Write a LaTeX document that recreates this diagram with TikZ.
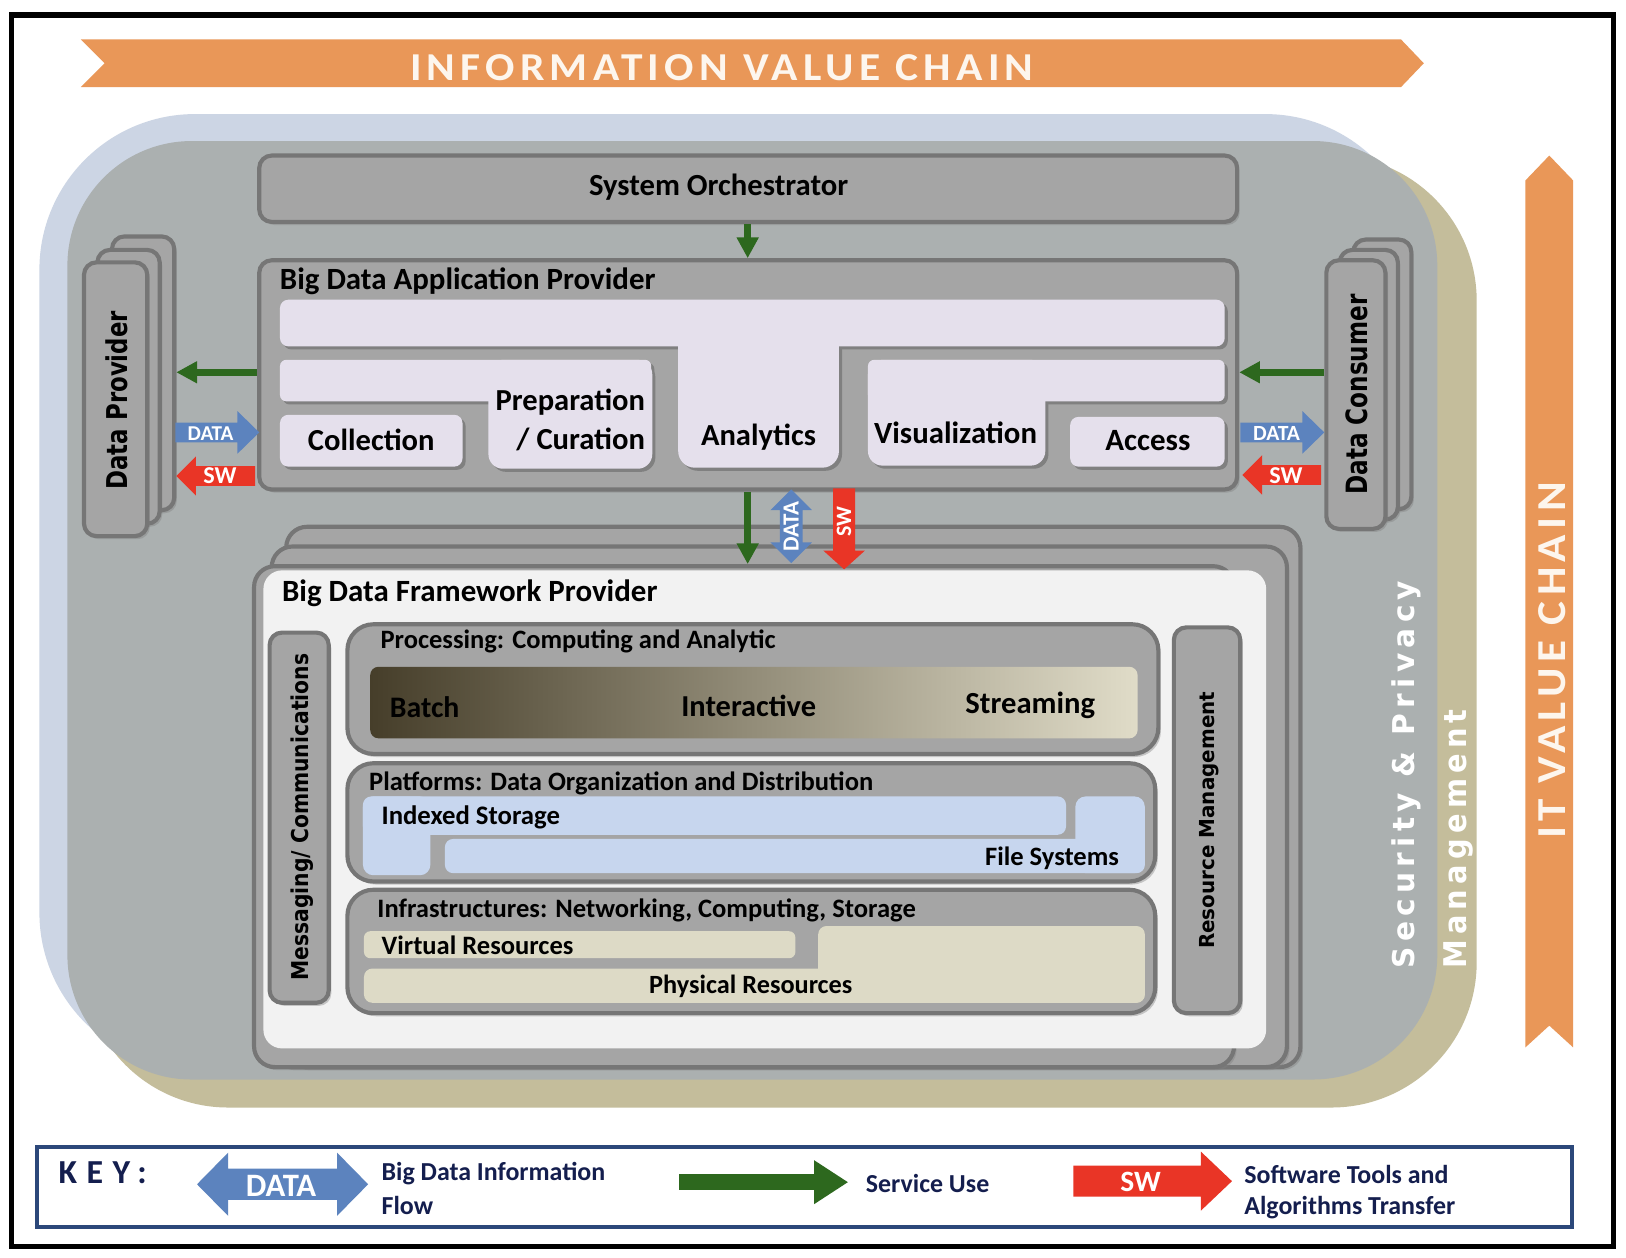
\documentclass[tikz,border=0pt]{standalone}
\usepackage{fontspec}
\usepackage{graphicx}
\setmainfont{Carlito}
\newfontfamily\dv{DejaVu Sans}
\newfontfamily\spc[LetterSpace=12]{Carlito}
\newfontfamily\dvspc[LetterSpace=18]{DejaVu Sans}
\newfontfamily\keyf[LetterSpace=28]{Carlito}
\usetikzlibrary{arrows.meta,shadows}
\newcommand\fw[2]{\resizebox{#1pt}{!}{#2}}
\newcommand\fwh[3]{\resizebox{#1pt}{#2pt}{#3}}
\definecolor{orng}{RGB}{233,151,88}
\definecolor{chaintxt}{RGB}{253,246,238}
\definecolor{blueglow}{RGB}{204,213,228}
\definecolor{tanc}{RGB}{196,189,155}
\definecolor{grayreg}{RGB}{171,176,176}
\definecolor{gfill}{RGB}{165,165,165}
\definecolor{gbord}{RGB}{118,118,118}
\definecolor{lavc}{RGB}{229,224,236}
\definecolor{lavshc}{RGB}{128,128,128}
\definecolor{panelc}{RGB}{242,242,242}
\definecolor{idxblue}{RGB}{199,214,238}
\definecolor{beige}{RGB}{221,218,198}
\definecolor{gdark}{RGB}{70,62,42}
\definecolor{gmid}{RGB}{142,132,96}
\definecolor{glight}{RGB}{224,220,200}
\definecolor{svcg}{RGB}{45,104,30}
\definecolor{datab}{RGB}{92,131,190}
\definecolor{swr}{RGB}{233,53,38}
\definecolor{keyb}{RGB}{44,72,122}
\definecolor{navy}{RGB}{20,30,78}
% block arrows: tail, tip, centre, body half, head half, signed head length, style
\newcommand\myharrow[7]{\fill[#7] (#1,{#3-#4}) -- ({#2-(#6)},{#3-#4}) -- ({#2-(#6)},{#3-#5}) -- (#2,#3) -- ({#2-(#6)},{#3+#5}) -- ({#2-(#6)},{#3+#4}) -- (#1,{#3+#4}) -- cycle;}
\newcommand\myvarrow[7]{\fill[#7] ({#1-#4},#2) -- ({#1-#4},{#3-(#6)}) -- ({#1-#5},{#3-(#6)}) -- (#1,#3) -- ({#1+#5},{#3-(#6)}) -- ({#1+#4},{#3-(#6)}) -- ({#1+#4},#2) -- cycle;}
\newcommand\mydharrow[7]{\fill[#7] (#1,#3) -- ({#1+#6},{#3-#5}) -- ({#1+#6},{#3-#4}) -- ({#2-#6},{#3-#4}) -- ({#2-#6},{#3-#5}) -- (#2,#3) -- ({#2-#6},{#3+#5}) -- ({#2-#6},{#3+#4}) -- ({#1+#6},{#3+#4}) -- ({#1+#6},{#3+#5}) -- cycle;}
\newcommand\mydvarrow[7]{\fill[#7] (#1,#2) -- ({#1+#5},{#2+#6}) -- ({#1+#4},{#2+#6}) -- ({#1+#4},{#3-#6}) -- ({#1+#5},{#3-#6}) -- (#1,#3) -- ({#1-#5},{#3-#6}) -- ({#1-#4},{#3-#6}) -- ({#1-#4},{#2+#6}) -- ({#1-#5},{#2+#6}) -- cycle;}
\newcommand\lavshapes[1]{%
 \fill[#1, rounded corners=16pt] (654,300) rectangle (809,451);
 \fill[#1, rounded corners=8pt] (270,289) rectangle (1181,334);
 \fill[#1, rounded corners=6pt] (270,347) rectangle (628,387);
 \fill[#1, rounded corners=14pt] (471,347) rectangle (629,452);
 \fill[#1, rounded corners=8pt] (270,400) rectangle (446,450);
 \fill[#1, rounded corners=6pt] (837,347) rectangle (1181,387);
 \fill[#1, rounded corners=14pt] (837,347) rectangle (1008,449);
 \fill[#1, rounded corners=8pt] (1032,402) rectangle (1181,450);
}
\begin{document}
\begin{tikzpicture}[x=1pt,y=-1pt,
  lbl/.style={inner sep=0pt, outer sep=0pt, font=\bfseries},
  keytxt/.style={inner sep=0pt, outer sep=0pt, text=navy, font=\bfseries\fontsize{25}{30}\selectfont},
  gbox/.style={fill=gfill, draw=gbord, line width=4pt, rounded corners=12pt, inner sep=0pt,
     drop shadow={shadow xshift=2.5pt, shadow yshift=-3pt, opacity=0.4}},
  svc/.style={draw=svcg, line width=7pt, -{Triangle[width=20pt,length=20pt]}},
  dataar/.style={fill=datab},
  swar/.style={fill=swr},
  lav/.style={fill=lavc},
  lavshadow/.style={fill=lavshc, shift={(3,3)}},
]
\useasboundingbox (0,0) rectangle (1568,1213);
\fill[white] (0,0) rectangle (1568,1213);
\draw[line width=5pt] (11,14.5) rectangle (1556,1202);

% information value chain
\fill[orng] (78,38) -- (1351,38) -- (1373,61) -- (1351,84) -- (78,84) -- (101,61) -- cycle;
\node[lbl, text=chaintxt] (ivc) at (696,65.5) {\fwh{601}{25}{\spc INFORMATION VALUE CHAIN}};

% IT value chain
\fill[orng] (1471,174) -- (1494,150) -- (1517,174) -- (1517,1010) -- (1494,989) -- (1471,1010) -- cycle;
\node[lbl, text=chaintxt, rotate=90] (itvc) at (1497,637) {\fwh{344}{26}{\spc IT VALUE CHAIN}};

% regions
\fill[blueglow, rounded corners=150pt] (38,110) rectangle (1370,1030);
\fill[tanc, rounded corners=140pt] (80,150) rectangle (1424,1068);
\fill[grayreg, rounded corners=120pt] (65,136) rectangle (1386,1041);
\node[lbl, text=white, rotate=90] (secpriv) at (1356,747) {\fwh{374}{22}{\dvspc Security \& Privacy}};
\node[lbl, text=white, rotate=90] (mgmt) at (1406,809) {\fwh{250}{22}{\dvspc Management}};

% system orchestrator
\node[gbox, minimum width=943, minimum height=64] (orch) at (721.5,182) {};
\node[lbl, anchor=base] (orchtxt) at (693,189) {\fw{250}{System Orchestrator}};

% application provider
\node[gbox, minimum width=943, minimum height=221] (app) at (721.5,361.5) {};
\lavshapes{lavshadow}
\lavshapes{lav}
\node[lbl, anchor=base west] (apptitle) at (270,279) {\fw{362}{Big Data Application Provider}};
\node[lbl, anchor=base] (colltxt) at (358,434) {\fw{122}{Collection}};
\node[lbl, anchor=base east] (preptxt) at (622,396) {\fw{144}{Preparation}};
\node[lbl, anchor=base east] (curtxt) at (622,433) {\fw{124}{/ Curation}};
\node[lbl, anchor=base west] (anatxt) at (676,430) {\fw{111}{Analytics}};
\node[lbl, anchor=base west] (vistxt) at (843,428) {\fw{157}{Visualization}};
\node[lbl, anchor=base west] (acctxt) at (1066,434) {\fw{82}{Access}};

% data provider stack
\node[gbox, minimum width=60, minimum height=264] (dp3) at (138,360) {};
\node[gbox, minimum width=60, minimum height=264] (dp2) at (124,373) {};
\node[gbox, minimum width=61, minimum height=264] (dp) at (111.5,385) {};
\node[lbl, rotate=90] (dptxt) at (112.5,386) {\fwh{172}{21}{\dv Data Provider}};

% data consumer stack
\node[gbox, minimum width=56, minimum height=260] (dc3) at (1333,361) {};
\node[gbox, minimum width=56, minimum height=260] (dc2) at (1320,371) {};
\node[gbox, minimum width=57, minimum height=259] (dc) at (1307.5,380.5) {};
\node[lbl, rotate=90] (dctxt) at (1308,380.5) {\fwh{193}{21}{\dv Data Consumer}};

% framework provider stack
\node[gbox, rounded corners=20pt, minimum width=978, minimum height=521] (fw1) at (765,768.5) {};
\node[gbox, rounded corners=20pt, minimum width=979, minimum height=502] (fw2) at (751.5,778) {};
\node[gbox, rounded corners=20pt, minimum width=945, minimum height=483] (fw3) at (717.5,787.5) {};
\node[fill=panelc, rounded corners=18pt, inner sep=0pt, minimum width=967, minimum height=461] (panel) at (737.5,780.5) {};
\node[lbl, anchor=base west] (fwtitle) at (272,580) {\fw{362}{Big Data Framework Provider}};

% connectors
\coordinate (cx) at (721,0);
\coordinate (yl) at (0,359);
\draw[svc] (orch.south -| cx) -- (app.north -| cx);
\draw[svc] (app.west |- yl) -- (dp3.east |- yl);
\draw[svc] (dc.west |- yl) -- (app.east |- yl);
\draw[svc] (app.south -| cx) -- (fw3.north -| cx);

% block arrows
\myharrow{169}{250}{417}{9.5}{20.5}{21}{dataar}
\node[lbl, text=white] (dl) at (203,418) {\fw{44}{DATA}};
\myharrow{246}{170}{459}{9.5}{19}{-19}{swar}
\node[lbl, text=white] (sl) at (212,459) {\fw{32}{SW}};
\myharrow{1196}{1277}{417}{9.5}{20.5}{21}{dataar}
\node[lbl, text=white] (dr) at (1231,418) {\fw{45}{DATA}};
\myharrow{1274}{1198}{458}{9.5}{19}{-19}{swar}
\node[lbl, text=white] (sr) at (1240,459) {\fw{32}{SW}};
\mydvarrow{763}{472}{543}{11}{20}{20}{dataar}
\node[lbl, text=white, rotate=90] (dv) at (763,508) {\fw{48}{DATA}};
\myvarrow{814}{471}{549}{10.5}{20}{18}{swar}
\node[lbl, text=white, rotate=90] (sv) at (814,503) {\fw{29}{SW}};

% messaging and resource management
\node[gbox, minimum width=57, minimum height=357] (msg) at (288.5,788.5) {};
\node[lbl, rotate=90] (msgtxt) at (291.5,788) {\fwh{315}{17}{\dv Messaging/ Communications}};
\node[gbox, minimum width=64, minimum height=372] (res) at (1164,791) {};
\node[lbl, rotate=90] (restxt) at (1166,791) {\fwh{248}{14.5}{\dv Resource Management}};

% processing
\node[gbox, rounded corners=25pt, minimum width=782, minimum height=125] (proc) at (726,664.5) {};
\shade[left color=gdark, middle color=gmid, right color=glight, rounded corners=8pt] (357,643) rectangle (1097,712);
\node[lbl, anchor=base west] (proctxt) at (367,625) {\fw{381}{Processing: Computing and Analytic}};
\node[lbl, anchor=base west] (batch) at (376,692) {\fw{67}{Batch}};
\node[lbl, anchor=base west] (inter) at (657,691) {\fw{130}{Interactive}};
\node[lbl, anchor=base west] (stream) at (931,688) {\fw{125}{Streaming}};

% platforms
\node[gbox, rounded corners=25pt, minimum width=779, minimum height=114] (plat) at (724.5,793) {};
\fill[idxblue, rounded corners=8pt] (350,768) rectangle (1028,805);
\fill[idxblue, rounded corners=10pt] (350,768) rectangle (415,844);
\fill[idxblue, rounded corners=8pt] (429,809) rectangle (1104,842);
\fill[idxblue, rounded corners=10pt] (1037,768) rectangle (1104,842);
\node[lbl, anchor=base west] (plattxt) at (356,762) {\fw{486}{Platforms: Data Organization and Distribution}};
\node[lbl, anchor=base west] (idx) at (368,795) {\fw{172}{Indexed Storage}};
\node[lbl, anchor=base east] (fs) at (1079,835) {\fw{129}{File Systems}};

% infrastructures
\node[gbox, rounded corners=25pt, minimum width=779, minimum height=119] (infra) at (724.5,917.5) {};
\fill[beige, rounded corners=6pt] (351,898) rectangle (767,924);
\fill[beige, rounded corners=8pt] (351,934) rectangle (1104,967);
\fill[beige, rounded corners=8pt] (789,893) rectangle (1104,967);
\node[lbl, anchor=base west] (inftxt) at (364,885) {\fw{519}{Infrastructures: Networking, Computing, Storage}};
\node[lbl, anchor=base west] (virt) at (368,920) {\fw{185}{Virtual Resources}};
\node[lbl, anchor=base west] (phys) at (626,958) {\fw{196}{Physical Resources}};

% key
\node[draw=keyb, line width=4pt, fill=white, inner sep=0pt, minimum width=1480, minimum height=77] (key) at (776,1144.5) {};
\node[lbl, text=navy] (keylbl) at (99,1130.5) {\fwh{85}{21}{\keyf KEY:}};
\mydharrow{190}{355}{1142}{15}{30.5}{30}{dataar}
\node[lbl, text=white] (kdata) at (271,1144) {\fw{68}{DATA}};
\node[keytxt, anchor=base west] (k1) at (368,1138) {Big Data Information};
\node[keytxt, anchor=base west] (k1b) at (368,1171) {Flow};
\coordinate (kg1) at (655,1140);
\coordinate (kg2) at (818,1140);
\draw[draw=svcg, line width=15pt, -{Triangle[width=40pt,length=33pt]}] (kg1) -- (kg2);
\node[keytxt, anchor=base west] (k2) at (835,1150) {Service Use};
\myharrow{1035}{1188}{1139}{15}{28.5}{30}{swar}
\node[lbl, text=white] (ksw) at (1100,1140) {\fw{39}{SW}};
\node[keytxt, anchor=base west] (k3) at (1200,1141) {Software Tools and};
\node[keytxt, anchor=base west] (k3b) at (1200,1171) {Algorithms Transfer};
\end{tikzpicture}
\end{document}
